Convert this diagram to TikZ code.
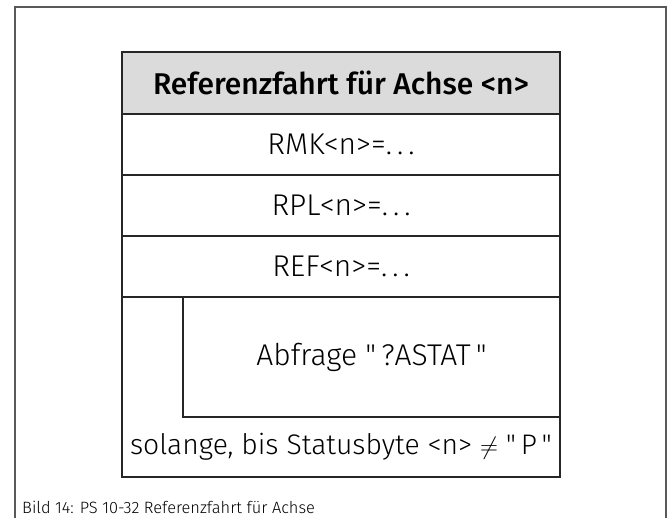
\documentclass[tikz,border=0pt]{standalone}
\usepackage{fontspec}
\setmainfont{Fira Sans}[UprightFont=* Light, BoldFont=* Medium]
\newcommand{\qd}{\textquotedbl}
\begin{document}
\begin{tikzpicture}[x=1pt,y=-1pt,
  line/.style={draw=black!85, line width=2.4pt},
  cell/.style={line, minimum width=438pt, inner sep=0pt, outer sep=0pt, anchor=north west, font=\fontsize{30}{33}\selectfont},
  frame/.style={draw=black!65, line width=1.4pt}]
\useasboundingbox (0,0) rectangle (672,518);
\draw[frame] (15,530) -- (15,7) -- (666,7) -- (666,530);
\node[cell, fill=black!14, minimum height=62pt, font=\fontsize{30}{33}\selectfont\bfseries] (title) at (122,52) {Referenzfahrt für Achse <n>};
\node[cell, minimum height=61pt] (rmk) at (122,114) {RMK<n>=.\,.\,.};
\node[cell, minimum height=61pt] (rpl) at (122,175) {RPL<n>=.\,.\,.};
\node[cell, minimum height=61pt] (ref) at (122,236) {REF<n>=.\,.\,.};
\draw[line] (122,297) rectangle (560,477);
\node[cell, minimum width=377pt, minimum height=120pt] (body) at (183,297) {Abfrage \qd\,?ASTAT\,\qd};
\node[font=\fontsize{28.3}{31}\selectfont] (cond) at (341,447) {solange, bis Statusbyte <n> $\neq$ \qd\,P\,\qd};
\node[font=\fontsize{16.4}{19}\selectfont, anchor=west, inner sep=0pt] (cap) at (22,507) {Bild 14: PS 10-32 Referenzfahrt für Achse};
\end{tikzpicture}
\end{document}
